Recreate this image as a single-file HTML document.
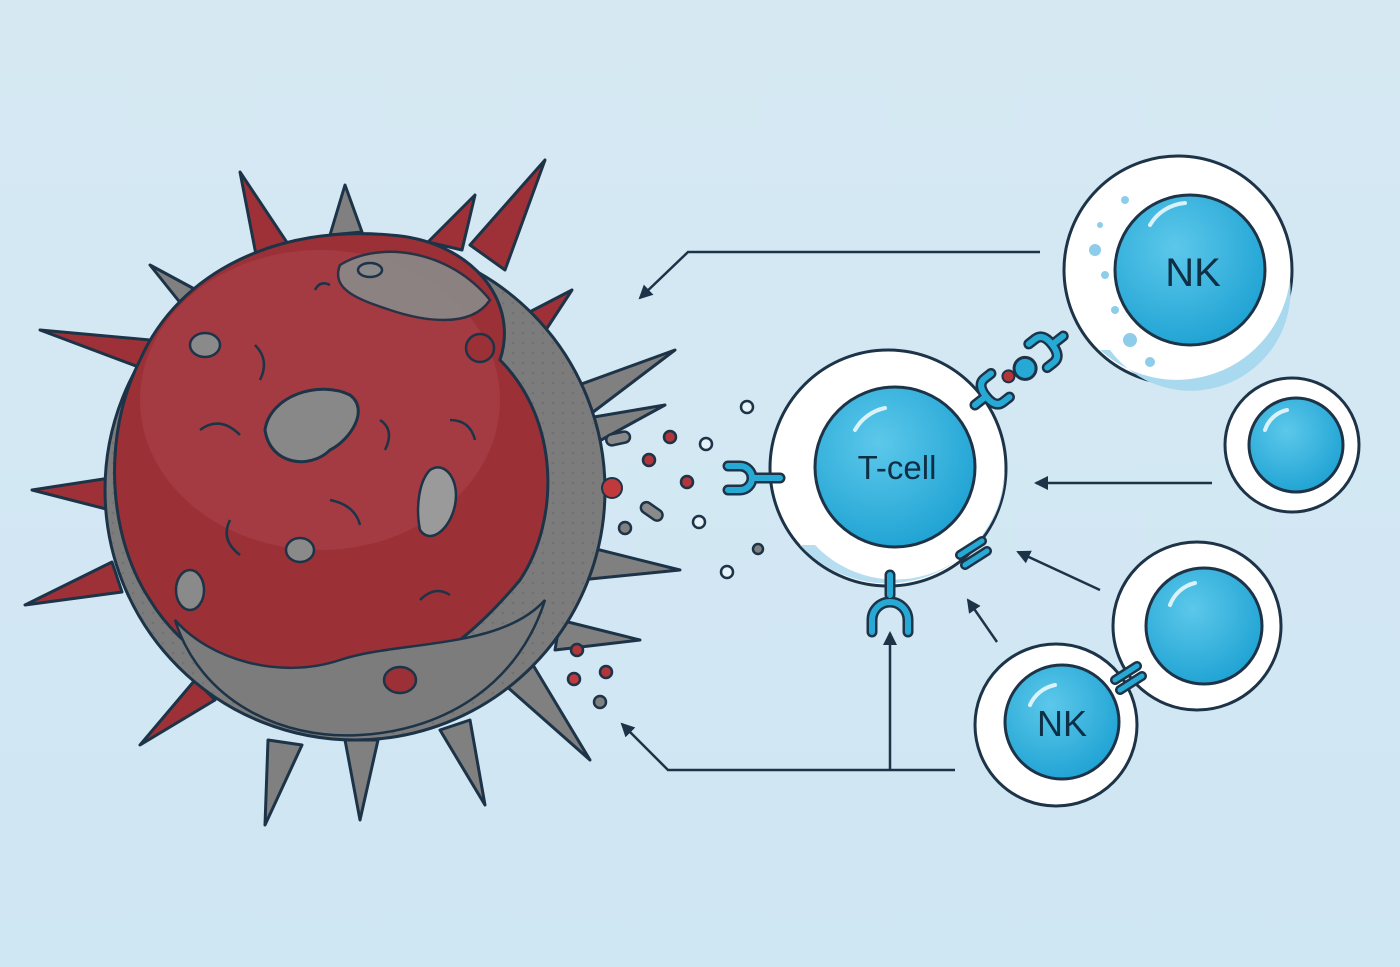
<!DOCTYPE html>
<html><head><meta charset="utf-8"><style>
html,body{margin:0;padding:0;width:1400px;height:967px;overflow:hidden;background:#d3e8f3}
svg{display:block}
text{font-family:"Liberation Sans",sans-serif}
</style></head><body>
<svg width="1400" height="967" viewBox="0 0 1400 967" xmlns="http://www.w3.org/2000/svg">
<defs>
<linearGradient id="bg" x1="0" y1="0" x2="0" y2="1"><stop offset="0" stop-color="#d6e9f3"/><stop offset="1" stop-color="#cfe6f3"/></linearGradient>
<radialGradient id="nuc" cx="0.4" cy="0.35" r="0.7"><stop offset="0" stop-color="#5cc8ea"/><stop offset="1" stop-color="#1ea2d3"/></radialGradient>
<pattern id="dots" width="10" height="10" patternUnits="userSpaceOnUse"><circle cx="3" cy="3" r="1.3" fill="#5d5d5d"/></pattern>
<marker id="ah" markerWidth="14" markerHeight="14" refX="12" refY="7" orient="auto" markerUnits="userSpaceOnUse"><path d="M0,0 L14,7 L0,14 Z" fill="#1d3347"/></marker>
</defs>
<rect width="1400" height="967" fill="url(#bg)"/>

<!-- spikes -->
<g stroke="#1d3347" stroke-width="3" stroke-linejoin="round">
<polygon fill="#9e3138" points="240,172 292,250 258,265"/>
<polygon fill="#808080" points="345,185 362,232 330,235"/>
<polygon fill="#9e3138" points="545,160 505,270 470,245"/>
<polygon fill="#9e3138" points="475,195 462,250 428,242"/>
<polygon fill="#9e3138" points="40,330 160,375 150,340"/>
<polygon fill="#808080" points="150,265 200,292 182,305"/>
<polygon fill="#9e3138" points="32,490 110,510 110,478"/>
<polygon fill="#9e3138" points="25,605 122,592 112,562"/>
<polygon fill="#9e3138" points="140,745 215,700 195,680"/>
<polygon fill="#808080" points="265,825 302,745 268,740"/>
<polygon fill="#808080" points="360,820 378,740 345,740"/>
<polygon fill="#808080" points="590,760 530,660 505,685"/>
<polygon fill="#808080" points="680,570 580,580 580,545"/>
<polygon fill="#808080" points="675,350 580,422 565,390"/>
<polygon fill="#808080" points="665,405 592,445 588,418"/>
<polygon fill="#9e3138" points="572,290 538,342 518,318"/>
<polygon fill="#808080" points="485,805 470,720 440,730"/>
<polygon fill="#808080" points="640,640 560,620 555,650"/>
</g>
<!-- body -->
<circle cx="355" cy="490" r="250" fill="#7c7c7c" stroke="#1d3347" stroke-width="3"/>
<circle cx="355" cy="490" r="248" fill="url(#dots)" opacity="0.35"/>
<path d="M140,360 C180,270 280,225 390,235 C470,240 520,300 500,360 C560,420 560,520 520,580 C470,640 410,690 320,690 C250,700 180,650 150,600 C110,540 100,440 140,360 Z" fill="#9b3037" stroke="#1d3347" stroke-width="3"/>
<ellipse cx="320" cy="400" rx="180" ry="150" fill="#b24a50" opacity="0.45"/>
<path d="M340,265 C380,240 450,250 490,300 C470,330 420,320 390,310 C360,300 330,290 340,265Z" fill="#8a8a8a" stroke="#1d3347" stroke-width="2.5" opacity="0.9"/>
<path d="M265,430 C270,395 320,380 350,395 C370,410 350,440 330,450 C310,470 270,465 265,430Z" fill="#888" stroke="#1d3347" stroke-width="3"/>
<path d="M430,470 C445,460 460,480 455,505 C450,530 430,545 420,530 C415,505 420,480 430,470Z" fill="#9a9a9a" stroke="#1d3347" stroke-width="2.5"/>
<path d="M175,620 C200,700 280,740 360,735 C450,730 520,680 545,600 C500,650 400,640 340,660 C280,680 210,660 175,620Z" fill="#7c7c7c" stroke="#1d3347" stroke-width="2.5"/>
<ellipse cx="205" cy="345" rx="15" ry="12" fill="#8a8a8a" stroke="#1d3347" stroke-width="2.5"/>
<ellipse cx="300" cy="550" rx="14" ry="12" fill="#8a8a8a" stroke="#1d3347" stroke-width="2.5"/>
<ellipse cx="190" cy="590" rx="14" ry="20" fill="#8a8a8a" stroke="#1d3347" stroke-width="2.5"/>
<ellipse cx="370" cy="270" rx="12" ry="7" fill="#8a8a8a" stroke="#1d3347" stroke-width="2.5"/>
<circle cx="480" cy="348" r="14" fill="#9b3037" stroke="#1d3347" stroke-width="2.5"/>
<ellipse cx="400" cy="680" rx="16" ry="13" fill="#9b3037" stroke="#1d3347" stroke-width="2.5"/>
<circle cx="612" cy="488" r="10" fill="#c0393d" stroke="#1d3347" stroke-width="2"/>
<g fill="none" stroke="#1d3347" stroke-width="2.5">
<path d="M200,430 q20,-15 40,5"/><path d="M380,420 q15,10 5,30"/><path d="M330,500 q25,5 30,25"/><path d="M230,520 q-10,20 10,35"/><path d="M420,600 q15,-15 30,-5"/><path d="M260,380 q10,-20 -5,-35"/><path d="M450,420 q20,0 25,20"/><path d="M315,290 q5,-10 15,-5"/>
</g>

<!-- particles -->
<g stroke="#1d3347" stroke-width="2.5">
<circle cx="670" cy="437" r="6" fill="#b2353a"/><circle cx="649" cy="460" r="6" fill="#b2353a"/><circle cx="687" cy="482" r="6" fill="#b2353a"/>
<circle cx="625" cy="528" r="6" fill="#808080"/><circle cx="758" cy="549" r="5" fill="#808080"/>
<circle cx="706" cy="444" r="6" fill="#e6f3fa"/><circle cx="747" cy="407" r="6" fill="#e6f3fa"/><circle cx="699" cy="522" r="6" fill="#e6f3fa"/><circle cx="727" cy="572" r="6" fill="#e6f3fa"/>
<rect x="606" y="433" width="24" height="11" rx="5.5" fill="#8a8a8a" transform="rotate(-12 618 438)"/>
<rect x="640" y="506" width="24" height="11" rx="5.5" fill="#8a8a8a" transform="rotate(35 652 511)"/>
<circle cx="577" cy="650" r="6" fill="#b2353a"/><circle cx="606" cy="672" r="6" fill="#b2353a"/><circle cx="574" cy="679" r="6" fill="#c0393d"/><circle cx="600" cy="702" r="6" fill="#808080"/>
</g>

<!-- arrows -->
<g fill="none" stroke="#1d3347" stroke-width="2.5">
<polyline points="1040,252 688,252 640,298" marker-end="url(#ah)"/>
<line x1="1212" y1="483" x2="1036" y2="483" marker-end="url(#ah)"/>
<line x1="1100" y1="590" x2="1018" y2="552" marker-end="url(#ah)"/>
<line x1="997" y1="642" x2="968" y2="600" marker-end="url(#ah)"/>
<polyline points="955,770 668,770 622,724" marker-end="url(#ah)"/>
<line x1="890" y1="770" x2="890" y2="633" marker-end="url(#ah)"/>
</g>

<!-- cells -->
<g stroke="#1d3347" stroke-width="3">
<circle cx="1178" cy="270" r="114" fill="#fff"/>
<path d="M1100,350 A114,114 0 0 0 1290,280 A100,100 0 0 1 1110,350Z" fill="#a9d9ef" stroke="none"/>
<circle cx="1190" cy="270" r="75" fill="url(#nuc)"/>
<circle cx="888" cy="468" r="118" fill="#fff"/>
<path d="M800,545 A118,118 0 0 0 1005,470 A110,110 0 0 1 815,545Z" fill="#b6ddf0" stroke="none"/>
<circle cx="895" cy="467" r="80" fill="url(#nuc)"/>
<circle cx="1292" cy="445" r="67" fill="#fff"/>
<circle cx="1296" cy="445" r="47" fill="url(#nuc)"/>
<circle cx="1197" cy="626" r="84" fill="#fff"/>
<circle cx="1204" cy="626" r="58" fill="url(#nuc)"/>
<circle cx="1056" cy="725" r="81" fill="#fff"/>
<circle cx="1062" cy="722" r="57" fill="url(#nuc)"/>
</g>
<g fill="none" stroke="#fff" stroke-width="4" stroke-linecap="round" opacity="0.8">
<path d="M1150,225 a45,45 0 0 1 35,-22"/><path d="M855,430 a45,45 0 0 1 30,-22"/><path d="M1265,430 a30,30 0 0 1 22,-20"/><path d="M1170,605 a35,35 0 0 1 25,-22"/><path d="M1030,705 a35,35 0 0 1 25,-20"/>
</g>
<g fill="#8ecde9"><circle cx="1095" cy="250" r="6"/><circle cx="1105" cy="275" r="4"/><circle cx="1125" cy="200" r="4"/><circle cx="1100" cy="225" r="3"/><circle cx="1130" cy="340" r="7"/><circle cx="1150" cy="362" r="5"/><circle cx="1115" cy="310" r="4"/></g>

<text x="1193" y="286" font-size="40" fill="#0e2f45" text-anchor="middle">NK</text>
<text x="897" y="479" font-size="33" fill="#0e2f45" text-anchor="middle">T-cell</text>
<text x="1062" y="736" font-size="36" fill="#0e2f45" text-anchor="middle">NK</text>

<!-- receptors -->
<g fill="none" stroke-linecap="round">
<g stroke="#1d3347" stroke-width="11"><path d="M728,466 h12 a12,12 0 0 1 12,12 a12,12 0 0 1 -12,12 h-12 M752,478 h28"/></g>
<g stroke="#27a9d6" stroke-width="6"><path d="M728,466 h12 a12,12 0 0 1 12,12 a12,12 0 0 1 -12,12 h-12 M752,478 h28"/></g>
<g stroke="#1d3347" stroke-width="11"><path d="M890,575 v20 M872,632 v-12 a18,18 0 0 1 36,0 v12"/></g>
<g stroke="#27a9d6" stroke-width="6"><path d="M890,575 v20 M872,632 v-12 a18,18 0 0 1 36,0 v12"/></g>
<g transform="translate(975,405) rotate(-38)">
<g stroke="#1d3347" stroke-width="11"><path d="M0,0 h14 M32,-15 h-8 q-10,0 -10,15 q0,15 10,15 h8 M112,0 h-14 M80,-15 h8 q10,0 10,15 q0,15 -10,15 h-8"/></g>
<g stroke="#27a9d6" stroke-width="6"><path d="M0,0 h14 M32,-15 h-8 q-10,0 -10,15 q0,15 10,15 h8 M112,0 h-14 M80,-15 h8 q10,0 10,15 q0,15 -10,15 h-8"/></g>
<circle cx="62" cy="2" r="11" fill="#27a9d6" stroke="#1d3347" stroke-width="3"/>
<circle cx="44" cy="-2" r="6" fill="#b2353a" stroke="#1d3347" stroke-width="2"/>
</g>
<g stroke="#1d3347" stroke-width="10"><path d="M960,555 l22,-14 M965,565 l22,-14 M1115,680 l22,-14 M1120,690 l22,-14"/></g>
<g stroke="#27a9d6" stroke-width="5"><path d="M960,555 l22,-14 M965,565 l22,-14 M1115,680 l22,-14 M1120,690 l22,-14"/></g>
</g>
</svg>
</body></html>
